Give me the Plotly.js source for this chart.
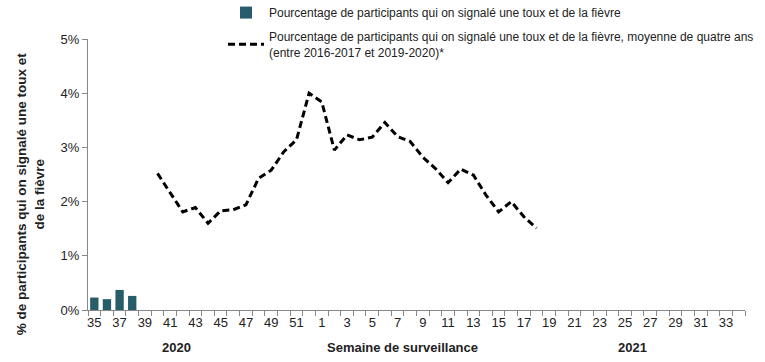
<!DOCTYPE html>
<html><head><meta charset="utf-8">
<script src="https://cdn.plot.ly/plotly-3.0.1.min.js"></script>
<style>html,body{margin:0;padding:0;background:#fff}#c{width:765px;height:362px}</style>
</head><body><div id="c"></div>
<script>
const weeks = ["35","36","37","38","39","40","41","42","43","44","45","46","47","48","49","50","51","52",
  "1","2","3","4","5","6","7","8","9","10","11","12","13","14","15","16","17","18","19","20","21","22","23","24","25","26","27","28","29","30","31","32","33","34"];
const barWeeks = ["35","36","37","38"];
const barValues = [0.0023, 0.0020, 0.0037, 0.0026];
const avgWeeks = ["40","41","42","43","44","45","46","47","48","49","50","51","52","1","2","3","4","5","6","7","8","9","10","11","12","13","14","15","16","17","18"];
const avgValues = [0.0252,0.0217,0.0181,0.0189,0.0160,0.0183,0.0185,0.0194,0.0243,0.0258,0.0292,0.0314,0.0400,0.0384,0.0295,0.0323,0.0314,0.0319,0.0346,0.0320,0.0311,0.0282,0.0261,0.0235,0.0260,0.0249,0.0212,0.0181,0.0200,0.0172,0.0151];
const yTicks = [0,0.01,0.02,0.03,0.04,0.05];
const yTickText = ["0%","1%","2%","3%","4%","5%"];
const tickText = weeks.map((w,i)=> i%2===0 ? w : "");

const font = "Liberation Sans, Arial, sans-serif";
const data = [
  {type:'bar', x:barWeeks, y:barValues, name:'Pourcentage de participants qui on signalé une toux et de la fièvre',
   marker:{color:'#275d6b'}, legendgroup:'a'},
  {type:'scatter', mode:'lines', x:avgWeeks, y:avgValues, legendgroup:'b',
   name:'Pourcentage de participants qui on signalé une toux et de la fièvre, moyenne de quatre ans<br>(entre 2016-2017 et 2019-2020)*',
   line:{color:'#000', width:3, dash:'7px,4px'}}
];
const layout = {
  width:765, height:362,
  margin:{l:88, r:20, t:39, b:52, autoexpand:false},
  paper_bgcolor:'#fff', plot_bgcolor:'#fff',
  font:{family:font, size:13, color:'#222'},
  bargap:0.34,
  showlegend:true,
  legend:{x:0.2055, y:1.151, xanchor:'left', yanchor:'top', font:{size:12, color:'#222'},
          bgcolor:'rgba(0,0,0,0)', tracegroupgap:5, itemwidth:36},
  xaxis:{type:'category', categoryorder:'array', categoryarray:weeks,
         tickmode:'array', tickvals:weeks, ticktext:tickText, tickson:'boundaries', tickangle:0,
         ticks:'outside', ticklen:5, tickcolor:'#888', showline:true, linecolor:'#888',
         showgrid:false, zeroline:false, range:[-0.5,51.5], tickfont:{size:13, color:'#222'}},
  yaxis:{range:[0,0.05], tickvals:yTicks, ticktext:yTickText, ticks:'outside', ticklen:5, tickcolor:'#888',
         showline:true, linecolor:'#888', showgrid:false, zeroline:false, tickfont:{size:13,color:'#222'}},
  annotations:[
    {text:'<b>% de participants qui on signalé une toux et<br>de la fièvre</b>', xref:'paper', yref:'paper', x:-0.059, y:0.43, xanchor:'right', yanchor:'middle', textangle:-90, showarrow:false, font:{size:13.5,color:'#222'}},
    {text:'<b>Semaine de surveillance</b>', xref:'x', yref:'paper', x:24.4, y:-0.14, yanchor:'middle', showarrow:false, font:{size:13,color:'#222'}},
    {text:'<b>2020</b>', xref:'x', yref:'paper', x:6.5, y:-0.14, yanchor:'middle', showarrow:false, font:{size:13,color:'#222'}},
    {text:'<b>2021</b>', xref:'x', yref:'paper', x:42.6, y:-0.14, yanchor:'middle', showarrow:false, font:{size:13,color:'#222'}}
  ]
};
Plotly.newPlot('c', data, layout, {displayModeBar:false, staticPlot:true});
</script></body></html>
